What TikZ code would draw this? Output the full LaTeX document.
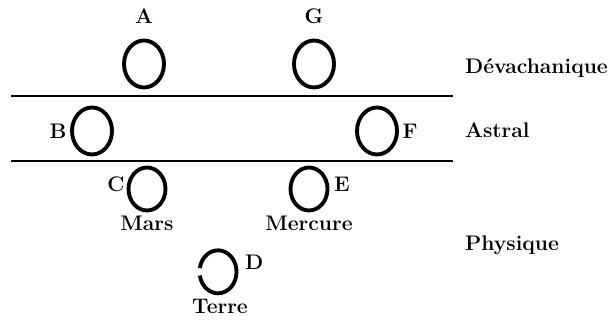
\documentclass[tikz,border=0pt]{standalone}
\usetikzlibrary{positioning,shapes.geometric}
\tikzset{
  planet/.style={ellipse, draw, line width=2.2pt, inner sep=0pt, minimum width=0.80cm, minimum height=0.94cm},
  small planet/.style={planet, minimum width=0.74cm, minimum height=0.86cm},
  tag/.style={font=\bfseries\fontsize{12}{14}\selectfont, inner sep=1pt},
  plane/.style={tag, anchor=west}
}
\begin{document}
\begin{tikzpicture}
  \useasboundingbox (0,0) rectangle (12.16,6.48);
  % plane boundaries
  \coordinate (l1w) at (0.22,4.56);
  \coordinate (l1e) at (9.06,4.56);
  \coordinate (l2w) at (0.22,3.26);
  \coordinate (l2e) at (9.06,3.26);
  \draw[line width=1.2pt] (l1w) -- (l1e);
  \draw[line width=1.2pt] (l2w) -- (l2e);

  % devachanic globes
  \node[planet] (A) at (2.88,5.20) {};
  \node[tag, above=2.5mm of A] (Alab) {A};
  \node[planet] (G) at (6.28,5.20) {};
  \node[tag, above=2.5mm of G] (Glab) {G};

  % astral globes
  \node[planet] (B) at (1.84,3.86) {};
  \node[tag, left=0.3mm of B] (Blab) {B};
  \node[planet] (F) at (7.54,3.86) {};
  \node[tag, right=0.3mm of F] (Flab) {F};

  % physical globes
  \node[small planet] (C) at (2.94,2.70) {};
  \node[tag, anchor=east] (Clab) at ([yshift=1mm]C.west) {C};
  \node[tag, below=0.3mm of C] (Mars) {Mars};
  \node[small planet] (E) at (6.18,2.70) {};
  \node[tag, anchor=west] (Elab) at ([xshift=0.5mm,yshift=1mm]E.east) {E};
  \node[tag, below=0.3mm of E] (Mercure) {Mercure};

  % earth, ring broken on the left
  \node[small planet, draw=none] (D) at (4.40,1.04) {};
  \draw[line width=2.2pt] (D.190) arc[start angle=190, end angle=530, x radius=0.37cm, y radius=0.43cm];
  \node[tag, anchor=west] (Dlab) at ([xshift=0.5mm,yshift=2mm]D.east) {D};
  \node[tag, below=0.3mm of D] (Terre) {Terre};

  % plane names
  \node[plane] (dev) at (9.26,5.12) {Dévachanique};
  \node[plane] (ast) at (9.26,3.88) {Astral};
  \node[plane] (phy) at (9.26,1.58) {Physique};
\end{tikzpicture}
\end{document}
